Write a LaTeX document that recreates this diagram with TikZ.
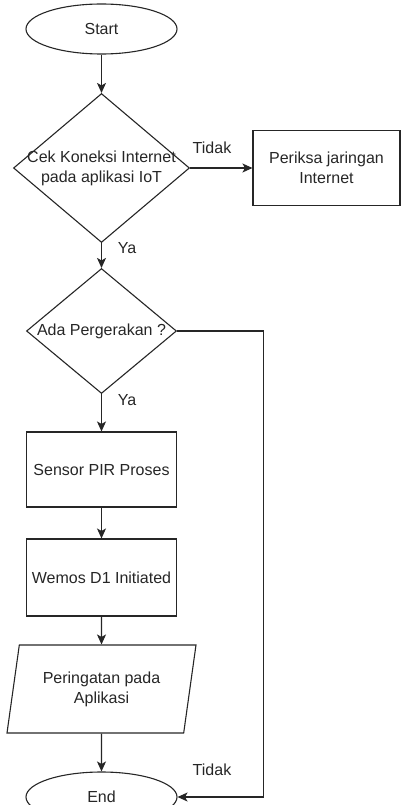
\documentclass[tikz,border=0pt]{standalone}
\usepackage{fontspec}
\setmainfont{Liberation Sans}
\usetikzlibrary{shapes.geometric, arrows.meta}
\tikzstyle{startstop} = [ellipse, minimum width=151pt, minimum height=50pt, draw, line width=1.1pt]
\tikzstyle{process} = [rectangle, minimum width=150pt, minimum height=75pt, text centered, draw, line width=1.1pt]
\tikzstyle{decision} = [diamond, inner sep=0pt, draw, line width=1.1pt]
\tikzstyle{io} = [trapezium, trapezium left angle=73.5, trapezium right angle=106.5, trapezium stretches body, minimum width=189pt, minimum height=88pt, align=center, draw, line width=1.1pt]
\tikzstyle{txt} = [align=center, inner sep=0pt]
\tikzstyle{lbl} = [inner sep=0pt]
\tikzstyle{arrow} = [line width=1.1pt, -{Stealth[length=10pt, width=9pt, inset=2.5pt]}]

\begin{document}
\begin{tikzpicture}[font=\fontsize{16}{20}\selectfont, node distance=110pt, align=center, color=black!85]
    \clip (-101.5pt,29pt) rectangle (299.5pt,-776pt); % page 401 x 805

    \node (start) [startstop] {Start};
    \node (cek) [decision, minimum width=176pt, minimum height=149pt, node distance=139pt, below of=start] {};
    \node (cektext) [txt] at (cek) {Cek Koneksi Internet\\pada aplikasi IoT};
    \node (periksa) [process, minimum width=147pt, node distance=225pt, right of=cek] {Periksa jaringan\\Internet};
    \node (ada) [decision, minimum width=150pt, minimum height=125pt, node distance=163pt, below of=cek] {};
    \node (adatext) [txt] at (ada) {Ada Pergerakan ?};
    \node (sensor) [process, node distance=138.5pt, below of=ada] {Sensor PIR Proses};
    \node (wemos) [process, minimum height=77pt, node distance=108pt, below of=sensor] {Wemos D1 Initiated};
    \node (peringatan) [io, node distance=111.5pt, below of=wemos] {Peringatan pada\\Aplikasi};
    \node (end) [startstop, node distance=108pt, below of=peringatan] {End};
    \coordinate (loopcorner) at ([xshift=86pt]ada.east);

    \node (tidak1) [lbl] at (110.5pt,-119pt) {Tidak};
    \node (ya1) [lbl] at (25.5pt,-219pt) {Ya};
    \node (ya2) [lbl] at (25.5pt,-371pt) {Ya};
    \node (tidak2) [lbl] at (110.5pt,-741pt) {Tidak};

    \draw[arrow] (start) -- (cek);
    \draw[arrow] (cek) -- (periksa);
    \draw[arrow] (cek) -- (ada);
    \draw[arrow] (ada) -- (sensor);
    \draw[arrow] (sensor) -- (wemos);
    \draw[arrow] (wemos) -- (peringatan);
    \draw[arrow] (peringatan) -- (end);
    \draw[arrow] (ada.east) -- (loopcorner) |- (end.east);

    \end{tikzpicture}
\end{document}
